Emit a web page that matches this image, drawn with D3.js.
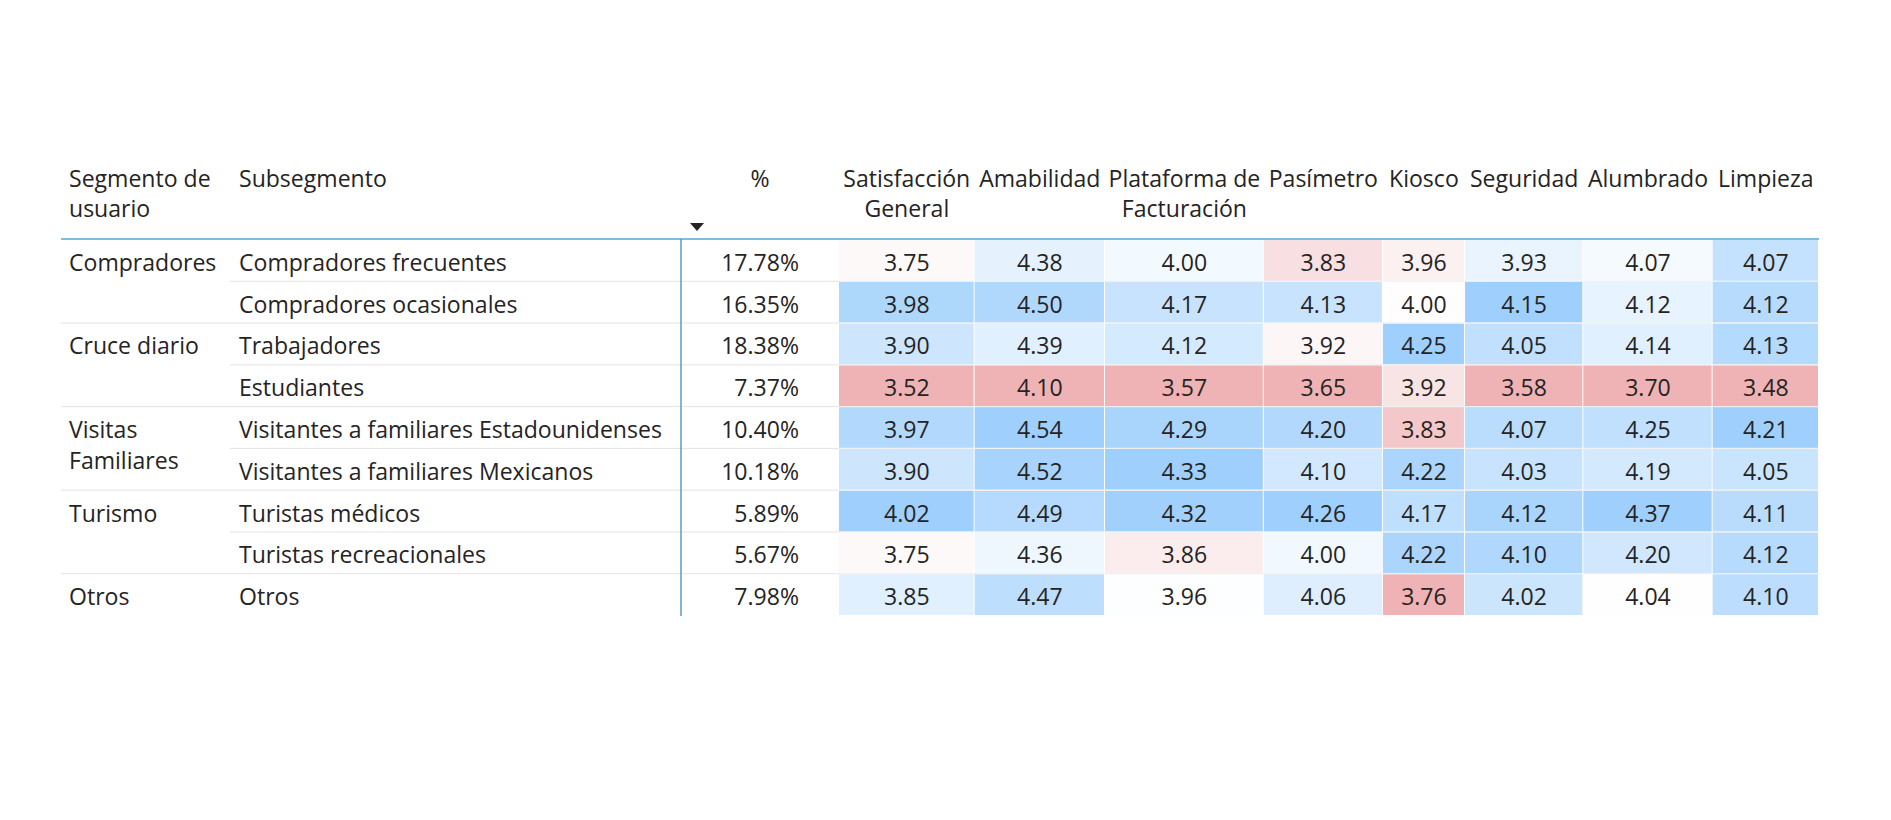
<!DOCTYPE html>
<html><head><meta charset="utf-8">
<script src="https://cdn.jsdelivr.net/npm/d3@7"></script>
<style>
body{margin:0;background:#fff}
text{font-family:"Open Sans","Noto Sans",sans-serif;fill:#252423}
</style>
</head><body>
<svg id="c" width="1891" height="820"></svg>
<script>
// ---------- DATA ----------
const segmentHeader = ["Segmento de", "usuario"];
const subsegmentHeader = "Subsegmento";
const pctHeader = "%";
const segments = ["Compradores","Compradores","Cruce diario","Cruce diario",
  "Visitas Familiares","Visitas Familiares","Turismo","Turismo","Otros"];
const segmentLabelLines = {
  "Compradores":["Compradores"], "Cruce diario":["Cruce diario"],
  "Visitas Familiares":["Visitas","Familiares"], "Turismo":["Turismo"], "Otros":["Otros"]
};
const subsegments = ["Compradores frecuentes","Compradores ocasionales","Trabajadores","Estudiantes",
  "Visitantes a familiares Estadounidenses","Visitantes a familiares Mexicanos",
  "Turistas médicos","Turistas recreacionales","Otros"];
const pctValues = [17.78,16.35,18.38,7.37,10.40,10.18,5.89,5.67,7.98];
const measureLabels = [["Satisfacción","General"],["Amabilidad"],["Plataforma de","Facturación"],
  ["Pasímetro"],["Kiosco"],["Seguridad"],["Alumbrado"],["Limpieza"]];
const satisfaccion = [3.75,3.98,3.90,3.52,3.97,3.90,4.02,3.75,3.85];
const amabilidad   = [4.38,4.50,4.39,4.10,4.54,4.52,4.49,4.36,4.47];
const plataforma   = [4.00,4.17,4.12,3.57,4.29,4.33,4.32,3.86,3.96];
const pasimetro    = [3.83,4.13,3.92,3.65,4.20,4.10,4.26,4.00,4.06];
const kiosco       = [3.96,4.00,4.25,3.92,3.83,4.22,4.17,4.22,3.76];
const seguridad    = [3.93,4.15,4.05,3.58,4.07,4.03,4.12,4.10,4.02];
const alumbrado    = [4.07,4.12,4.14,3.70,4.25,4.19,4.37,4.20,4.04];
const limpieza     = [4.07,4.12,4.13,3.48,4.21,4.05,4.11,4.12,4.10];
const measureValues = [satisfaccion,amabilidad,plataforma,pasimetro,kiosco,seguridad,alumbrado,limpieza];

// ---------- STYLE / LAYOUT ----------
const textColor = "#252423";
const lowColor = "#efb2b5", midColor = "#ffffff", highColor = "#9fcffc";
const accentLine = "#5aa5d6", gridLine = "#e3e3e3";
const tableLeft = 61, segLeft = 230, rowHeaderRight = 681, valueLeft = 839, tableRight = 1819;
const headerLineY = 239, bodyTop = 240, bodyBottom = 616;
const headerFirstY = 178, headerLineGap = 30, labelLineGap = 31;

const svg = d3.select("#c");
svg.append("rect").attr("width",1891).attr("height",820).attr("fill","#fff");

// fit font size to reference width of longest subsegment label
const probe = svg.append("text").attr("font-size",100).text(subsegments[4]);
const probeW = probe.node().getComputedTextLength();
probe.remove();
const fs = 100 * 423 / probeW;
function measure(str){
  const t = svg.append("text").attr("font-size",fs).text(str);
  const w = t.node().getComputedTextLength(); t.remove(); return w;
}

// rows
const n = subsegments.length;
const y = d3.scaleBand().domain(d3.range(n)).range([bodyTop, bodyBottom]);
const bw = y.bandwidth();

// value columns: width from header/value text widths, then mapped with a linear scale
const colW = measureLabels.map((lines,j) => {
  const hw = d3.max(lines, measure);
  const vw = d3.max(measureValues[j], v => measure(d3.format(".2f")(v)));
  return Math.max(hw, vw) + 18;
});
const cum = [0]; colW.forEach(w => cum.push(cum[cum.length-1] + w));
const x = d3.scaleLinear().domain([0, cum[cum.length-1]]).range([valueLeft, tableRight]);

// colour scales per column (min -> mid -> max)
const colorScales = measureValues.map(vals => {
  const [mn, mx] = d3.extent(vals);
  return d3.scaleLinear().domain([mn,(mn+mx)/2,mx]).range([lowColor,midColor,highColor]).interpolate(d3.interpolateRgb);
});

const g = svg.append("g");

// cells
measureValues.forEach((vals,j) => {
  const x0 = x(cum[j]), x1 = x(cum[j+1]);
  g.selectAll(null).data(vals).enter().append("rect")
    .attr("x", x0).attr("y", (d,i) => y(i))
    .attr("width", x1 - x0 - 1).attr("height", bw - 1)
    .attr("fill", d => colorScales[j](d));
});

// row separators
for (let i = 1; i < n; i++) {
  const newGroup = segments[i] !== segments[i-1];
  g.append("line").attr("x1", newGroup ? tableLeft : segLeft).attr("x2", valueLeft)
    .attr("y1", y(i) - 0.5).attr("y2", y(i) - 0.5)
    .attr("stroke", gridLine).attr("stroke-width", 1);
  g.append("line").attr("x1", valueLeft).attr("x2", tableRight)
    .attr("y1", y(i) - 0.5).attr("y2", y(i) - 0.5)
    .attr("stroke", "#eeeeee").attr("stroke-width", 1);
}

// header line & vertical divider
g.append("line").attr("x1", tableLeft).attr("x2", tableRight)
  .attr("y1", headerLineY).attr("y2", headerLineY)
  .attr("stroke", accentLine).attr("stroke-width", 1.6);
g.append("line").attr("x1", rowHeaderRight).attr("x2", rowHeaderRight)
  .attr("y1", headerLineY).attr("y2", bodyBottom)
  .attr("stroke", "#4f94c4").attr("stroke-width", 1.4);

// headers
const th = svg.append("g").attr("font-size", fs).attr("dominant-baseline","central");
segmentHeader.forEach((t,k) => th.append("text").attr("x", tableLeft + 8)
  .attr("y", headerFirstY + k*headerLineGap).text(t));
th.append("text").attr("x", segLeft + 9).attr("y", headerFirstY).text(subsegmentHeader);
th.append("text").attr("x", (rowHeaderRight + valueLeft)/2).attr("y", headerFirstY)
  .attr("text-anchor","middle").text(pctHeader);
measureLabels.forEach((lines,j) => {
  const cx = (x(cum[j]) + x(cum[j+1]))/2;
  lines.forEach((t,k) => th.append("text").attr("x", cx).attr("y", headerFirstY + k*headerLineGap)
    .attr("text-anchor","middle").text(t));
});
// sort indicator
svg.append("path").attr("d","M-7,-4L7,-4L0,4Z").attr("fill", textColor)
  .attr("transform", `translate(${rowHeaderRight + 16},227)`);

// body text
const tb = svg.append("g").attr("font-size", fs).attr("dominant-baseline","central");
segments.forEach((s,i) => {
  if (i > 0 && segments[i-1] === s) return;
  segmentLabelLines[s].forEach((t,k) => tb.append("text").attr("x", tableLeft + 8)
    .attr("y", y(i) + bw/2 + 1 + k*labelLineGap).text(t));
});
subsegments.forEach((s,i) => tb.append("text").attr("x", segLeft + 9)
  .attr("y", y(i) + bw/2 + 1).text(s));
pctValues.forEach((v,i) => tb.append("text").attr("x", valueLeft - 40)
  .attr("y", y(i) + bw/2 + 1).attr("text-anchor","end").text(d3.format(".2f")(v) + "%"));
measureValues.forEach((vals,j) => {
  const cx = (x(cum[j]) + x(cum[j+1]))/2;
  vals.forEach((v,i) => tb.append("text").attr("x", cx).attr("y", y(i) + bw/2 + 1)
    .attr("text-anchor","middle").text(d3.format(".2f")(v)));
});
</script>
</body></html>
